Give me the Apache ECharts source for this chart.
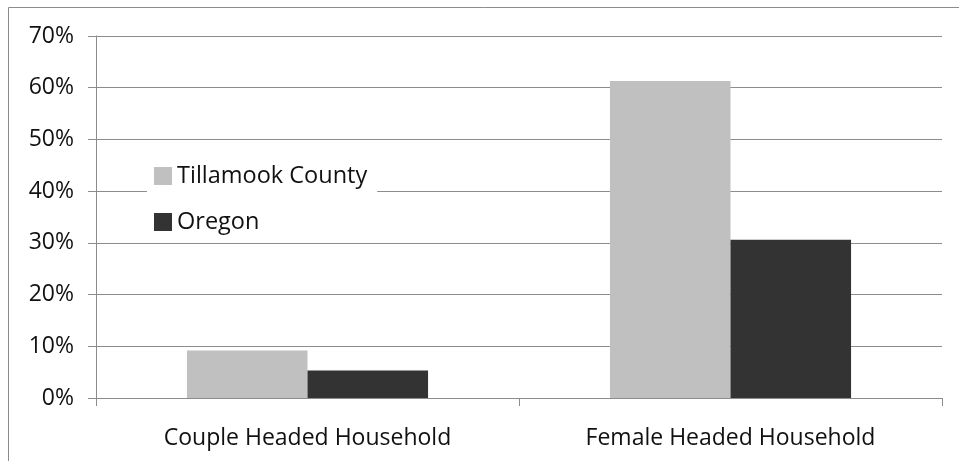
<!DOCTYPE html>
<html>
<head>
<meta charset="utf-8">
<script src="https://cdn.jsdelivr.net/npm/echarts@6/dist/echarts.min.js"></script>
<style>
  html, body { margin: 0; padding: 0; background: #fff; }
  #chart { width: 959px; height: 461px; }
</style>
</head>
<body>
<div id="chart"></div>
<script>
// data
const categories = ['Couple Headed Household', 'Female Headed Household']
const tillamook = [9.2, 61.3]
const oregon = [5.3, 30.6]
const seriesNames = ['Tillamook County', 'Oregon']

const font = 'Open Sans'
const chart = echarts.init(document.getElementById('chart'))

const option = {
  backgroundColor: '#fff',
  animation: false,
  textStyle: { fontFamily: font },
  graphic: [
    {
      type: 'rect',
      shape: { x: 8.5, y: 7.5, width: 1200, height: 1000 },
      style: { fill: 'none', stroke: '#8c8c8c', lineWidth: 1 },
      silent: true
    }
  ],
  legend: {
    orient: 'vertical',
    left: 147,
    top: 157,
    padding: [7, 10, 2, 7],
    backgroundColor: '#fff',
    itemWidth: 18,
    itemHeight: 18,
    itemGap: 22,
    icon: 'rect',
    data: seriesNames,
    textStyle: { fontFamily: font, fontSize: 23.5, color: '#111' }
  },
  grid: {
    left: 96,
    right: 17,
    top: 36,
    bottom: 63,
    containLabel: false
  },
  xAxis: {
    type: 'category',
    data: categories,
    axisLine: { show: true, lineStyle: { color: '#8c8c8c', width: 1 } },
    axisTick: { show: true, length: 8, lineStyle: { color: '#8c8c8c' } },
    axisLabel: { color: '#111', fontSize: 23, margin: 29, fontFamily: font },
    splitLine: { show: false }
  },
  yAxis: {
    type: 'value',
    min: 0,
    max: 70,
    interval: 10,
    axisLine: { show: true, lineStyle: { color: '#8c8c8c', width: 1 } },
    axisTick: { show: true, length: 8, lineStyle: { color: '#8c8c8c' } },
    axisLabel: { color: '#111', fontSize: 23, margin: 22, formatter: '{value}%', fontFamily: font },
    splitLine: { show: true, lineStyle: { color: '#8c8c8c', width: 1 } }
  },
  series: [
    {
      name: seriesNames[0],
      type: 'bar',
      data: tillamook,
      barGap: '0%',
      barCategoryGap: '43%',
      itemStyle: { color: '#c0c0c0' }
    },
    {
      name: seriesNames[1],
      type: 'bar',
      data: oregon,
      itemStyle: { color: '#333333' }
    }
  ]
}

chart.setOption(option)
</script>
</body>
</html>
